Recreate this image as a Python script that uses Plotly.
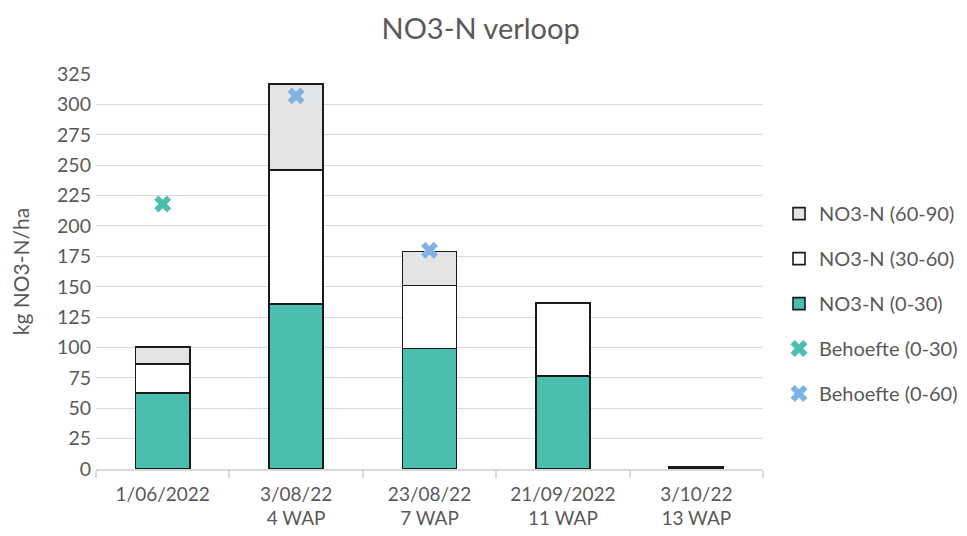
import plotly.graph_objects as go

categories = ["1/06/2022", "3/08/22<br>4 WAP", "23/08/22<br>7 WAP", "21/09/2022<br>11 WAP", "3/10/22<br>13 WAP"]
no3_0_30 = [62.5, 136, 99, 76.5, 1.5]
no3_30_60 = [24, 110, 52, 60, 0]
no3_60_90 = [14, 71, 28, 0, 0]
behoefte_0_30 = [218, None, None, None, None]
behoefte_0_60 = [None, 307, 180, None, None]

FONT = "Lato, 'Open Sans', sans-serif"
TXT = "#595959"

fig = go.Figure()
line = dict(color="#1a1a1a", width=1.6)
fig.add_trace(go.Bar(x=categories, y=no3_0_30, name="NO3-N (0-30)", marker=dict(color="#4BBFAD", line=line),
                     legendgroup="c", legendrank=3))
fig.add_trace(go.Bar(x=categories, y=no3_30_60, name="NO3-N (30-60)", marker=dict(color="#FFFFFF", line=line),
                     legendgroup="b", legendrank=2))
fig.add_trace(go.Bar(x=categories, y=no3_60_90, name="NO3-N (60-90)", marker=dict(color="#E3E4E6", line=line),
                     legendgroup="a", legendrank=1))
fig.add_trace(go.Scatter(x=categories, y=behoefte_0_30, name="Behoefte (0-30)", mode="markers",
                         marker=dict(symbol="x", size=15, color="#4BBFAD", line=dict(width=0)),
                         legendgroup="d", legendrank=4))
fig.add_trace(go.Scatter(x=categories, y=behoefte_0_60, name="Behoefte (0-60)", mode="markers",
                         marker=dict(symbol="x", size=15, color="#80B2E2", line=dict(width=0)),
                         legendgroup="e", legendrank=5))

fig.update_layout(
    width=951, height=520,
    barmode="stack", bargap=0.595,
    paper_bgcolor="white", plot_bgcolor="white",
    margin=dict(l=88, r=196, t=66, b=59, autoexpand=False),
    font=dict(family=FONT, size=19.5, color=TXT),
    title=dict(text="NO3-N verloop", x=0.497, xanchor="center", y=0.96, yanchor="middle",
               font=dict(family=FONT, size=29, color=TXT)),
    xaxis=dict(showgrid=False, showline=True, linecolor="#D9D9D9", linewidth=1.5, automargin=False,
               ticks="outside", tickson="boundaries", ticklen=7, tickcolor="#D9D9D9", tickwidth=1.5,
               ticklabelstandoff=7, tickfont=dict(size=19, color=TXT)),
    yaxis=dict(range=[0, 325], dtick=25, tick0=0, showgrid=True, gridcolor="#D9D9D9", gridwidth=1.2,
               zeroline=False, showline=False, ticks="", tickfont=dict(size=19.5, color=TXT), automargin=False,
               ticklabelstandoff=4,
               title=dict(text="kg NO3-N/ha", font=dict(size=21, color=TXT), standoff=33)),
    legend=dict(x=1.024, xanchor="left", y=0.696, yanchor="top", traceorder="grouped",
                tracegroupgap=16, font=dict(size=20, color=TXT), itemwidth=30,
                bgcolor="rgba(0,0,0,0)"),
)

fig.write_html("out.html")
